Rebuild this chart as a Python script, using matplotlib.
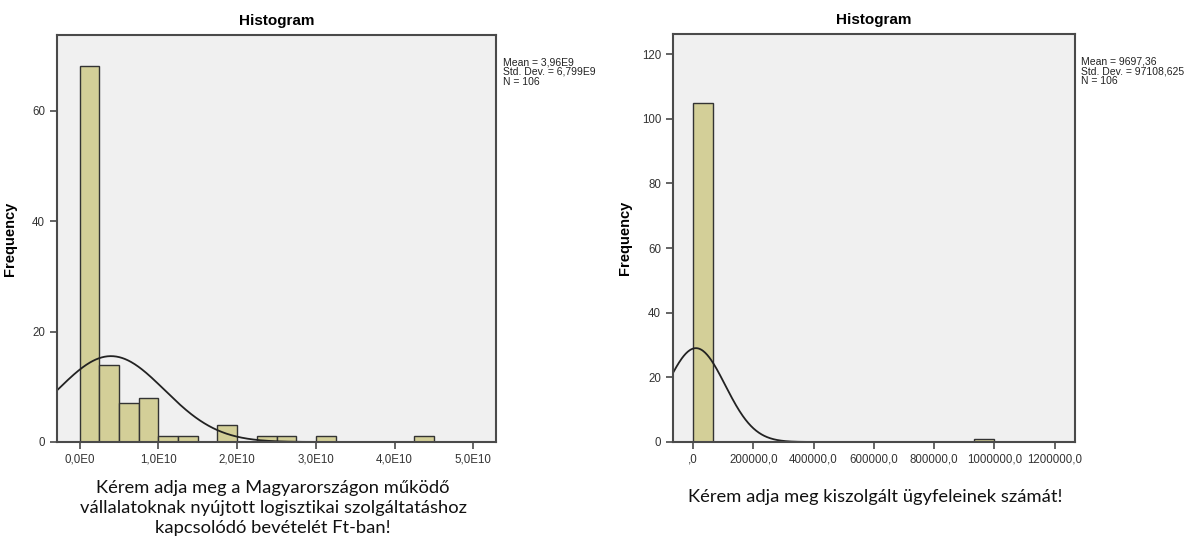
import matplotlib.pyplot as plt
import numpy as np

# --- data ---
# left: revenue (Ft), bins of 2.5E9
rev_bin_width = 2.5e9
rev_counts = [68, 14, 7, 8, 1, 1, 0, 3, 0, 1, 1, 0, 1, 0, 0, 0, 0, 1]
rev_mean, rev_sd, rev_n = 3.96e9, 6.799e9, 106
rev_xticks = [0, 1e10, 2e10, 3e10, 4e10, 5e10]
rev_xlabels = ['0,0E0', '1,0E10', '2,0E10', '3,0E10', '4,0E10', '5,0E10']
rev_yticks = [0, 20, 40, 60]

# right: number of clients, 15 bins up to 1 000 000
cli_bin_width = 1e6 / 15
cli_counts = [105, 0, 0, 0, 0, 0, 0, 0, 0, 0, 0, 0, 0, 0, 1]
cli_mean, cli_sd, cli_n = 9697.36, 97108.625, 106
cli_xticks = [0, 200000, 400000, 600000, 800000, 1000000, 1200000]
cli_xlabels = [',0', '200000,0', '400000,0', '600000,0', '800000,0',
               '1000000,0', '1200000,0']
cli_yticks = [0, 20, 40, 60, 80, 100, 120]

plt.rcParams['font.family'] = ['Liberation Sans', 'DejaVu Sans']

bar_color = '#d3cf98'
panel_bg = '#f0f0f0'
spine_col = '#4a4a4a'

fig = plt.figure(figsize=(11.9, 5.44), dpi=100)
ax1 = fig.add_axes([57 / 1190, 102 / 544, 439 / 1190, 407 / 544])
ax2 = fig.add_axes([673 / 1190, 102 / 544, 402 / 1190, 408 / 544])


def draw_hist(ax, counts, width, mean, sd, n, xlim, ylim, xticks, xlabels, yticks, stats):
    edges = np.arange(len(counts)) * width
    ax.set_facecolor(panel_bg)
    ax.bar(edges, counts, width=width, align='edge', color=bar_color,
           edgecolor='#333333', linewidth=1.0, zorder=2)
    # fitted normal curve from the shown mean / sd / N
    xs = np.linspace(xlim[0], xlim[1], 600)
    ys = n * width / (sd * np.sqrt(2 * np.pi)) * np.exp(-0.5 * ((xs - mean) / sd) ** 2)
    ax.plot(xs, ys, color='#222222', linewidth=1.3, zorder=3)
    ax.set_xlim(xlim)
    ax.set_ylim(ylim)
    ax.set_xticks(xticks)
    ax.set_xticklabels(xlabels)
    ax.set_yticks(yticks)
    ax.tick_params(axis='both', direction='out', length=5, width=1.2,
                   colors=spine_col, labelsize=8.3, labelcolor='#333333')
    for s in ax.spines.values():
        s.set_color(spine_col)
        s.set_linewidth(1.5)
        s.set_zorder(4)
    ax.set_title('Histogram', fontsize=11, fontweight='bold', pad=7)
    ax.set_ylabel('Frequency', fontsize=10.5, fontweight='bold')
    ax.text(1.015, 0.945, stats, transform=ax.transAxes, ha='left', va='top',
            fontsize=7.5, linespacing=0.95, color='#222222')


draw_hist(ax1, rev_counts, rev_bin_width, rev_mean, rev_sd, rev_n,
          (-0.29e10, 5.29e10), (0, 73.7), rev_xticks, rev_xlabels, rev_yticks,
          'Mean = 3,96E9\nStd. Dev. = 6,799E9\nN = 106')
ax1.yaxis.set_label_coords(-0.091, 0.5)

draw_hist(ax2, cli_counts, cli_bin_width, cli_mean, cli_sd, cli_n,
          (-66300, 1267000), (0, 126.2), cli_xticks, cli_xlabels, cli_yticks,
          'Mean = 9697,36\nStd. Dev. = 97108,625\nN = 106')
ax2.yaxis.set_label_coords(-0.102, 0.5)

# captions under the charts
fig.text(273 / 1190, 1 - 508 / 544,
         'Kérem adja meg a Magyarországon működő\n'
         'vállalatoknak nyújtott logisztikai szolgáltatáshoz\n'
         'kapcsolódó bevételét Ft-ban!',
         ha='center', va='center', fontsize=13.2, linespacing=1.32,
         family=['Lato', 'DejaVu Sans'], color='#111111')
fig.text(875 / 1190, 1 - 497 / 544,
         'Kérem adja meg kiszolgált ügyfeleinek számát!',
         ha='center', va='center', fontsize=13.2,
         family=['Lato', 'DejaVu Sans'], color='#111111')

plt.savefig('out.png', dpi=100)
